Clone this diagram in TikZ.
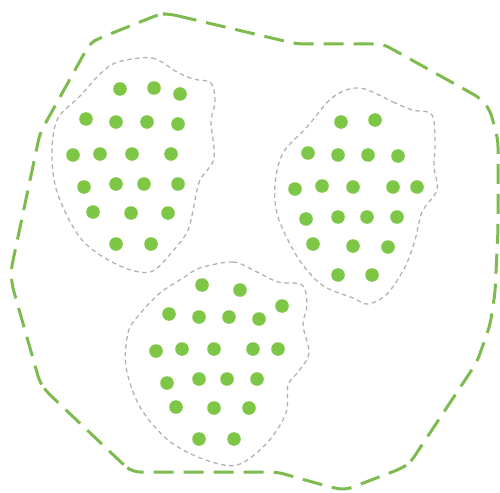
\documentclass[tikz,border=0pt]{standalone}
\begin{document}
\begin{tikzpicture}[x=1pt,y=-1pt,
  outer/.style={draw=dotgreen!85!gray, line width=3pt, dash pattern=on 20pt off 10pt, line cap=butt},
  inner/.style={draw=gray!60, line width=1.3pt, dash pattern=on 4.5pt off 3.5pt},
  dot/.style={fill=dotgreen}]
\definecolor{dotgreen}{RGB}{125,198,70}
\useasboundingbox (0,0) rectangle (500,492);
% outer boundary
\draw[outer, rounded corners=7pt] (170,14) -- (297,44) -- (383,44) -- (480,98) -- (490,110) -- (498,140) -- (498,230) -- (495,293) -- (490,325) -- (477,362) -- (410,463) -- (400,469) -- (345,490) -- (330,487) -- (277,472) -- (133,472) -- (125,466) -- (47,392) -- (40,383) -- (12,285) -- (11,270) -- (40,133) -- (90,43) -- (100,38) -- (160,14) -- cycle;
% cluster outlines
\draw[inner] plot[smooth cycle, tension=0.55] coordinates {(118,62) (152,58) (177,72) (193,79) (211,83) (215,102) (211,122) (214,158) (200,180) (195,200) (188,230) (172,252) (150,272) (118,265) (82,240) (58,195) (52,157) (57,120) (80,96) (100,74)};
\draw[inner] plot[smooth cycle, tension=0.55] coordinates {(360,88) (393,102) (412,110) (432,115) (435,145) (434,167) (437,190) (422,212) (415,240) (405,267) (387,294) (368,304) (353,298) (322,285) (298,258) (278,217) (275,185) (283,153) (307,127) (333,97)};
\draw[inner] plot[smooth cycle, tension=0.55] coordinates {(200,268) (233,262) (255,271) (278,282) (302,285) (307,305) (303,325) (309,353) (298,372) (288,385) (286,413) (267,443) (237,465) (203,459) (168,440) (140,407) (126,367) (128,333) (138,316) (160,293) (183,278)};
% dots cluster 1
\foreach \p in {(120,89),(154,88),(180,94),
  (86,119),(116,122),(147,122),(178,124),
  (73,155),(100,154),(132,154),(171,154),
  (84,187),(116,184),(144,184),(178,184),
  (93,212),(131,213),(168,213),
  (116,244),(151,244)}
  \fill[dot] \p circle (6.8);
% dots cluster 2
\foreach \p in {(341,122),(375,120),
  (308,153),(338,155),(368,155),(398,156),
  (295,189),(322,186),(353,187),(393,187),(417,187),
  (306,219),(338,217),(367,217),(397,217),
  (313,244),(353,246),(388,247),
  (338,275),(372,275)}
  \fill[dot] \p circle (6.8);
% dots cluster 3
\foreach \p in {(202,285),(240,290),(282,306),
  (169,314),(199,317),(229,317),(259,319),
  (156,351),(182,349),(214,349),(253,349),(278,349),
  (167,383),(199,379),(227,379),(257,379),
  (176,407),(214,408),(249,408),
  (199,439),(234,439)}
  \fill[dot] \p circle (6.8);
\end{tikzpicture}
\end{document}
